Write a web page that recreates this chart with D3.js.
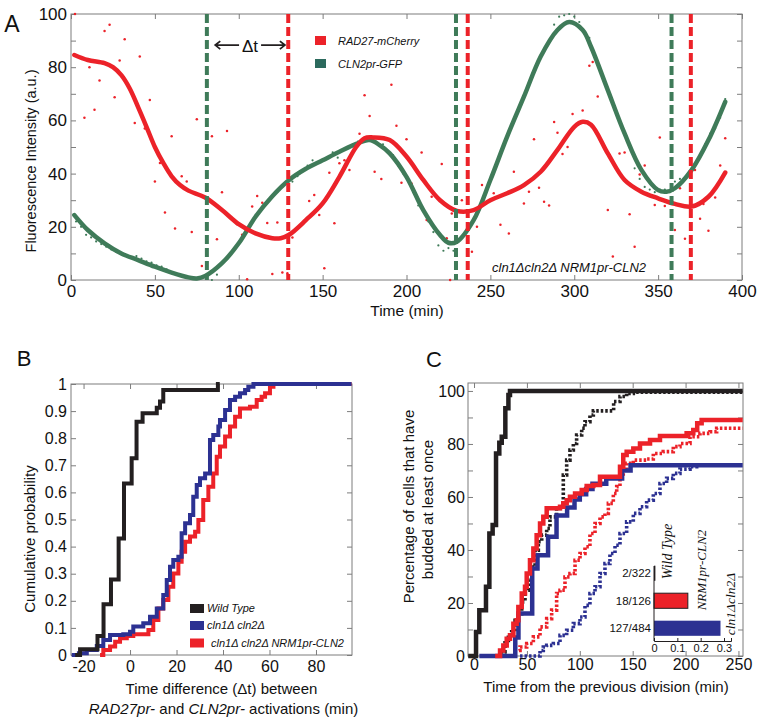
<!DOCTYPE html>
<html><head><meta charset="utf-8">
<script src="https://cdn.jsdelivr.net/npm/d3@7"></script>
<style>
body{margin:0;background:#fff;}
svg{display:block;font-family:"Liberation Sans",Arial,sans-serif;}
</style></head><body>
<svg id="chart" width="762" height="722"></svg>
<script>
// ---------- Panel A data ----------
const aXTicks = [0,50,100,150,200,250,300,350,400];
const aYTicks = [0,10,20,30,40,50,60,70,80,90,100];
const redCurve = [[2,84.6],[10,82.7],[20,81.5],[25,80],[30,77],[35,72],[40,65],[45,57.6],[50,50],[55,44],[60,39],[65,35.7],[70,33.6],[80,31],[90,26.3],[100,21],[110,17.5],[120,15.7],[125,15.7],[130,17],[140,22.5],[150,28.8],[160,38.8],[170,50],[175,53.3],[180,53.6],[190,52.6],[200,46.4],[210,37.6],[220,30],[230,26],[240,26.3],[250,30],[260,32.6],[270,35.7],[280,40.7],[290,48.9],[300,57.6],[305,59.5],[310,58.4],[320,47.6],[330,37.6],[340,33.2],[350,30.7],[360,28.6],[370,27.6],[380,31.3],[390,40.4]];
const greenCurve = [[2,24.4],[10,18.8],[20,13.8],[30,10],[40,7.5],[50,5],[60,2.8],[70,1],[75,0.6],[80,1.5],[90,6.3],[100,13.8],[110,23.8],[120,31.5],[130,37.6],[140,41.8],[150,45],[160,48.2],[170,51.2],[178,52.6],[184,50.7],[190,47.6],[200,38.8],[210,26.3],[220,16.9],[225,14],[230,14.4],[240,22.5],[250,37.6],[260,53.9],[270,68.9],[280,84],[290,94],[297,97],[305,94],[310,87.7],[320,71.4],[330,55.1],[340,41.4],[350,33.8],[355,33.2],[360,34.5],[370,41.4],[380,52.6],[390,67]];
const redDots = [[2.4,100],[8,61],[11,80],[14,64],[17,75],[20,93.6],[23,96],[26,68.7],[29,82.5],[32,90.5],[38,59],[41,84],[44,57],[47,67.7],[50,37],[53,44],[56,25.4],[60,54],[62,19.4],[66,39],[69,37],[72,18],[75,60.4],[78,5.3],[84,54],[87,15.3],[90,33],[93,56],[96,10.7],[99,21],[102,17],[105,0.3],[108,27.6],[111,31.6],[114,29],[117,21.4],[120,2.3],[123,21.6],[126,2.8],[129,2.5],[132,16],[136,40],[142,29.7],[145,32],[148,24.4],[151,4.4],[154,40.3],[157,21.3],[160,43.9],[163,45],[166,41.4],[172,55],[175,69.5],[178,61.7],[181,40.7],[185,38],[191,73.4],[194,58],[197,36.6],[200,52.9],[203,36.3],[209,47.9],[212,22.6],[215,31.3],[221,43.6],[224,15.7],[226,0],[227,25],[233,30],[239,10.6],[242,20],[245,35.7],[252,32.6],[256,20.8],[261,17.5],[264,40.7],[270,28.8],[273,33.2],[276,52.9],[279,34.7],[282,29.4],[285,28],[288,59.4],[290,55.4],[293,47.4],[296,50],[299,62.4],[305,63.7],[309,80.5],[311,82],[314,69],[320,26.3],[323,8.8],[327,47.6],[330,47.9],[333,24.7],[336,12.5],[339,39.7],[342,43],[348,28.2],[351,53.6],[354,27.8],[360,18.8],[363,34.5],[366,15.5],[372,41.4],[375,23],[377,28.6],[380,18.5],[384,31],[387,43],[390,53.3]];
const greenDots = [[3,22],[6,20],[9,17],[12,16],[15,14.5],[18,13.5],[21,12.5],[24,11.5],[27,10.5],[33,9],[36,8.5],[39,9],[42,8],[45,7],[48,6.5],[51,5.5],[54,5],[57,4],[84,0],[87,2],[123,33],[126,35],[132,37],[135,39],[141,43],[144,45],[147,44],[153,46],[156,48],[159,46],[165,50],[168,51],[171,52],[186,51],[192,47],[195,43],[198,40],[204,33],[207,28],[213,22],[216,18],[219,13],[222,11],[225,12],[228,11],[288,96],[291,99],[294,99.5],[297,100],[300,99],[303,97],[306,93],[309,91],[336,42],[339,38],[342,35],[345,34],[348,33],[351,34],[354,34],[357,33],[360,37],[363,38],[378,51],[381,55],[384,57],[387,61],[390,68]];
const greenOnsets = [81, 229.5, 358];
const redOnsets = [129.5, 236.5, 369.5];
const deltaT = [86, 127.5];
const aLegend = ["RAD27-mCherry","CLN2pr-GFP"];

// ---------- Panel B data ----------
const bXTicks = [-20,0,20,40,60,80];
const bYTicks = [0,0.1,0.2,0.3,0.4,0.5,0.6,0.7,0.8,0.9,1];
const bNames = ["Wild Type","cln1\u0394 cln2\u0394","cln1\u0394 cln2\u0394 NRM1pr-CLN2"];
const bWT = [[-23.6,0],[-21.5,0.021],[-14,0.07],[-11.4,0.187],[-8.2,0.279],[-4.9,0.43],[-2.6,0.633],[0.7,0.726],[2.8,0.861],[5.4,0.892],[11.5,0.912],[12.9,0.935],[14.3,0.978],[37.8,1.0],[38.6,1.0]];
const bDouble = [[-25.1,0],[-22,0.006],[-18.6,0.018],[-14.3,0.033],[-11.5,0.055],[-8.6,0.074],[-2.9,0.077],[0,0.086],[1.4,0.105],[5.7,0.117],[8.6,0.141],[11.5,0.172],[14.3,0.221],[15.8,0.277],[17.2,0.326],[18.6,0.351],[20.8,0.363],[22.2,0.449],[23.7,0.486],[25.8,0.517],[27.2,0.584],[28.7,0.627],[30.1,0.652],[32.3,0.67],[34.4,0.793],[35.8,0.812],[38,0.843],[38.7,0.867],[40.9,0.904],[43,0.941],[45.2,0.953],[47.3,0.966],[49.5,0.978],[50.9,0.99],[53.1,1],[95.3,1]];
const bNrm = [[-12.9,0],[-11.5,0.018],[-8.6,0.031],[-6.4,0.049],[-4.3,0.062],[-1.4,0.07],[1.4,0.077],[5.7,0.077],[7.9,0.092],[10,0.129],[12.2,0.172],[14.3,0.203],[16.5,0.252],[18.6,0.301],[20.8,0.344],[22.2,0.381],[23.7,0.418],[25.8,0.437],[28,0.455],[29.4,0.498],[31.5,0.572],[33.7,0.621],[35.8,0.67],[37.3,0.732],[38.7,0.769],[40.9,0.806],[43,0.843],[45.2,0.879],[47.3,0.91],[51.6,0.916],[54.5,0.941],[56.6,0.953],[58.1,0.966],[60.2,0.99],[61.7,1],[95.3,1]];

// ---------- Panel C data ----------
const cXTicks = [0,50,100,150,200,250];
const cYTicks = [0,10,20,30,40,50,60,70,80,90,100];
const cWTsolid = [[-5.5,0],[1.9,9.1],[5.0,17.3],[11.3,26.1],[14.5,46.2],[17.6,49.4],[20.8,76.4],[23.9,80.5],[26.2,82.7],[29.6,93.5],[32.5,98.5],[34.0,100],[254,100]];
const cWTdot = [[24,0],[26.2,1.5],[29.3,5.9],[32.5,7.8],[35.6,9.1],[38.8,13.5],[41.9,16],[45.1,20.4],[48.2,24.8],[51.4,28.6],[54.5,33.6],[57.7,39.9],[60.8,43.1],[64,45.6],[68.7,48.1],[71.8,52.5],[78.1,55.7],[81.3,56.3],[84.4,68.3],[87.6,73.9],[90.7,77.7],[93.9,80.2],[97,83.4],[101.8,85.9],[104.9,88.4],[109.6,90.9],[112.8,92.5],[132,96],[138,97.9],[144.3,99.1],[150.6,99.5],[254,99.5]];
const cNrmSolid = [[20,0],[24.6,2.1],[27.7,4.0],[30.9,6.5],[34,7.8],[37.2,12.2],[40.3,13.5],[41.9,18.5],[45.1,23.6],[48.2,26.1],[49.8,31.1],[52.9,36.1],[56.1,40.6],[59.2,45.6],[62.4,50],[65.5,52.5],[68.7,55.7],[81.3,56.3],[84.4,57.6],[87.6,58.8],[90.7,60.1],[95.5,61.3],[101.8,62.6],[106.5,64.1],[112.8,64.5],[119.1,67.6],[136.5,67.6],[138,71.4],[141.1,75.8],[144.3,77.1],[150.6,78.3],[156.9,80.2],[166.4,81.5],[175.8,83],[201,84],[207.3,85.3],[211,87.8],[215.2,89],[254,89]];
const cNrmDot = [[35,0],[38.8,2.1],[43.5,3.4],[49.8,4.7],[56.1,7.2],[62.4,11],[68.7,14.1],[73.4,17.3],[78.1,23.6],[81.3,24.8],[86,29.8],[90.7,31.1],[95.5,36.1],[100.2,38.7],[104.9,41.2],[109.6,46.2],[114.4,50],[119.1,52.5],[123.8,53.8],[127,57.6],[131.7,61.3],[134.9,63.9],[138,67.6],[141.1,70.2],[144.3,72.7],[150.6,73.9],[163.2,74.3],[169.5,76.4],[178.9,77.1],[188.4,79],[194.7,80.2],[204.2,82.7],[213.6,84],[223.1,84.6],[229.4,85.9],[254,85.9]];
const cDblSolid = [[5,0],[36,0],[39,7],[42,16],[55,33],[60,38],[70,45],[78,53],[88,56],[95,59],[100,61],[106,63],[112,65],[125,67],[140,70],[148,72],[254,72]];
const cDblDot = [[43.5,0],[62.4,2.1],[65.5,3.4],[68.7,4.0],[75,4.7],[81.3,7.8],[87.6,9.7],[93.9,12.2],[100.2,14.7],[104.9,19.1],[109.6,23.6],[114.4,26.1],[119.1,31.1],[123.8,34.9],[128.5,38.7],[133.3,41.8],[138,46.2],[144.3,50.6],[150.6,53.8],[156.9,56.3],[163.2,58.8],[169.5,61.3],[175.8,65.1],[182.1,67],[188.4,68.9],[194.7,70.5],[204.2,71.4],[210.5,72],[254,72]];
// inset
const insetCats = ["Wild Type","NRM1pr-CLN2","cln1\u0394cln2\u0394"];
const insetCounts = ["2/322","18/126","127/484"];
const insetValues = [0.006, 0.145, 0.285];
const insetTicks = [0,0.1,0.2,0.3];

// ---------- styles ----------
const RED="#ec2229", GREEN="#3f7b59", GREENSQ="#2c6a5d", BLUE="#2c3192", BLACK="#231f20", AX="#7d7d7d";
const svg = d3.select("#chart");

function frame(x, y, xt, yt, xfmt, yfmt, fs, xpad, ypad){
  const [x0,x1]=x.range(), [y0,y1]=y.range();
  const g = svg.append("g");
  const add=(axis,tr)=>{const a=g.append("g").attr("transform",tr).call(axis);
    a.select(".domain").remove(); a.selectAll("line").attr("stroke",AX);
    a.selectAll("text").attr("font-size",fs).attr("fill","#111").attr("font-family","Liberation Sans, Arial, sans-serif"); return a;};
  add(d3.axisBottom(x).tickValues(xt).tickSize(-5).tickPadding(xpad).tickFormat(xfmt),`translate(0,${y0})`);
  add(d3.axisTop(x).tickValues(xt).tickSize(-5).tickFormat(""),`translate(0,${y1})`);
  add(d3.axisLeft(y).tickValues(yt).tickSize(-5).tickPadding(ypad).tickFormat(yfmt),`translate(${x0},0)`);
  add(d3.axisRight(y).tickValues(yt).tickSize(-5).tickFormat(""),`translate(${x1},0)`);
  g.append("rect").attr("x",x0).attr("y",y1).attr("width",x1-x0).attr("height",y0-y1)
    .attr("fill","none").attr("stroke",AX).attr("stroke-width",1);
}
function txt(x,y,s,fs,opt={}){
  const t=svg.append("text").attr("x",x).attr("y",y).attr("font-size",fs).attr("fill",opt.fill||"#111")
   .attr("text-anchor",opt.anchor||"middle").attr("dy",opt.dy||"0.35em");
  if(opt.italic) t.attr("font-style","italic");
  if(opt.family) t.attr("font-family",opt.family);
  if(opt.rot) t.attr("transform",`rotate(${opt.rot},${x},${y})`);
  t.text(s); return t;
}

// ================= Panel A =================
const xA = d3.scaleLinear().domain([0,400]).range([71,742]);
const yA = d3.scaleLinear().domain([0,100]).range([280,14]);
frame(xA,yA,aXTicks,aYTicks,d=>d,d=>d%20===0?d:"",17,5,4);
const lineA = d3.line().x(d=>xA(d[0])).y(d=>yA(d[1])).curve(d3.curveCatmullRom.alpha(0.5));
svg.append("g").selectAll("circle").data(greenDots).join("circle")
  .attr("cx",d=>xA(d[0])).attr("cy",d=>yA(d[1])).attr("r",1.1).attr("fill",GREEN);
svg.append("g").selectAll("circle").data(redDots).join("circle")
  .attr("cx",d=>xA(d[0])).attr("cy",d=>yA(d[1])).attr("r",1.25).attr("fill",RED);
svg.append("path").datum(greenCurve).attr("d",lineA).attr("fill","none").attr("stroke",GREEN).attr("stroke-width",4.5).attr("stroke-linecap","round");
svg.append("path").datum(redCurve).attr("d",lineA).attr("fill","none").attr("stroke",RED).attr("stroke-width",4.5).attr("stroke-linecap","round");
svg.append("g").selectAll("line").data(greenOnsets).join("line")
  .attr("x1",d=>xA(d)).attr("x2",d=>xA(d)).attr("y1",yA(100)).attr("y2",yA(0))
  .attr("stroke",GREEN).attr("stroke-width",4).attr("stroke-dasharray","9,4");
svg.append("g").selectAll("line").data(redOnsets).join("line")
  .attr("x1",d=>xA(d)).attr("x2",d=>xA(d)).attr("y1",yA(100)).attr("y2",yA(0))
  .attr("stroke",RED).attr("stroke-width",4).attr("stroke-dasharray","9,4");
// delta t arrows
{
  const ya=yA(88.3), xl=xA(deltaT[0]), xr=xA(deltaT[1]), xm=(xl+xr)/2;
  const g=svg.append("g").attr("stroke",BLACK).attr("stroke-width",1.8).attr("fill","none");
  g.append("path").attr("d",`M${xm-11},${ya}H${xl} M${xl+5},${ya-4}L${xl},${ya}L${xl+5},${ya+4}`);
  g.append("path").attr("d",`M${xm+11},${ya}H${xr} M${xr-5},${ya-4}L${xr},${ya}L${xr-5},${ya+4}`);
  txt(xm,ya+1,"\u0394t",17);
}
// legend A
[RED,GREENSQ].forEach((c,i)=>{
  svg.append("rect").attr("x",315).attr("y",36+i*23).attr("width",11).attr("height",9).attr("fill",c);
  txt(338,41+i*23,aLegend[i],11,{anchor:"start",italic:true});
});
txt(569,267,"cln1\u0394cln2\u0394 NRM1pr-CLN2",13,{italic:true});
txt(31,161,"Fluorescence Intensity (a.u.)",14.5,{rot:-90});
txt(407,311,"Time (min)",15.5);
txt(12,24,"A",23);

// ================= Panel B =================
const xB = d3.scaleLinear().domain([-25.4,95.5]).range([71,352]);
const yB = d3.scaleLinear().domain([0,1]).range([655,384]);
frame(xB,yB,bXTicks,bYTicks,d=>d,d=>(d===0||d===1)?d:d.toFixed(1),16,6,4);
const stepB = d3.line().x(d=>xB(d[0])).y(d=>yB(d[1])).curve(d3.curveStepAfter);
[[bNrm,RED],[bDouble,BLUE],[bWT,BLACK]].forEach(([dat,c])=>{
  svg.append("path").datum(dat).attr("d",stepB).attr("fill","none").attr("stroke",c).attr("stroke-width",4);
});
[BLACK,BLUE,RED].forEach((c,i)=>{
  const yy=[608.5,625.5,643][i];
  svg.append("rect").attr("x",190).attr("y",yy-4.5).attr("width",14).attr("height",9).attr("fill",c);
  txt(i===2?211:207,yy,bNames[i],11,{anchor:"start",italic:true});
});
txt(30,539,"Cumulative probability",15,{rot:-90});
txt(221.5,689,"Time difference (\u0394t) between",15);
{
  const t=svg.append("text").attr("x",223.5).attr("y",709).attr("dy","0.35em").attr("text-anchor","middle").attr("font-size",15).attr("fill","#111");
  t.append("tspan").attr("font-style","italic").text("RAD27pr-");
  t.append("tspan").text(" and ");
  t.append("tspan").attr("font-style","italic").text("CLN2pr-");
  t.append("tspan").text(" activations (min)");
}
txt(24,358,"B",22);

// ================= Panel C =================
const xC = d3.scaleLinear().domain([-5.7,254.3]).range([468,743]);
const yC = d3.scaleLinear().domain([0,103]).range([656,383]);
frame(xC,yC,cXTicks,cYTicks,d=>d,d=>d%20===0?d:"",16,3,3);
const stepC = d3.line().x(d=>xC(d[0])).y(d=>yC(d[1])).curve(d3.curveStepAfter);
[[cDblDot,BLUE,true],[cNrmDot,RED,true],[cWTdot,BLACK,true],[cDblSolid,BLUE,false],[cNrmSolid,RED,false],[cWTsolid,BLACK,false]].forEach(([dat,c,dot])=>{
  const p=svg.append("path").datum(dat).attr("d",stepC).attr("fill","none").attr("stroke",c)
    .attr("stroke-width",dot?3.6:4.5);
  if(dot) p.attr("stroke-dasharray","2.5,2");
});
// inset
{
  const xi = d3.scaleLinear().domain([0,0.33]).range([654,731]);
  const yi = d3.scaleBand().domain(insetCats).range([559.5,642]).paddingInner(0.45).paddingOuter(0.225);
  const g=svg.append("g");
  g.selectAll("rect").data(insetValues).join("rect")
    .attr("x",xi(0)).attr("y",(d,i)=>yi(insetCats[i])).attr("width",d=>xi(d)-xi(0)).attr("height",yi.bandwidth())
    .attr("fill",(d,i)=>[BLACK,RED,BLUE][i]).attr("stroke",(d,i)=>i===1?BLACK:"none").attr("stroke-width",1);
  const ax=g.append("g").attr("transform","translate(0,641)")
    .call(d3.axisBottom(xi).tickValues(insetTicks).tickSize(-3).tickPadding(3).tickFormat(d=>d));
  ax.selectAll("text").attr("font-size",11).attr("fill","#111");
  ax.select(".domain").attr("stroke",BLACK);
  ax.selectAll("line").attr("stroke",BLACK);
  g.append("line").attr("x1",654).attr("x2",654).attr("y1",566).attr("y2",641).attr("stroke",BLACK);
  insetCounts.forEach((s,i)=>txt(651,yi(insetCats[i])+yi.bandwidth()/2,s,11.5,{anchor:"end"}));
  const serif="Liberation Serif, Times New Roman, serif";
  txt(667,551.5,insetCats[0],14,{rot:-90,italic:true,family:serif});
  txt(701,570,insetCats[1],13,{rot:-90,italic:true,family:serif});
  txt(730,604,insetCats[2],13.5,{rot:-90,italic:true,family:serif});
}
txt(409,506.5,"Percentage of cells that have",15,{rot:-90});
txt(428,509.5,"budded at least once",15,{rot:-90});
txt(606,687,"Time from the previous division (min)",15);
txt(434,359,"C",22);
</script>
</body></html>
